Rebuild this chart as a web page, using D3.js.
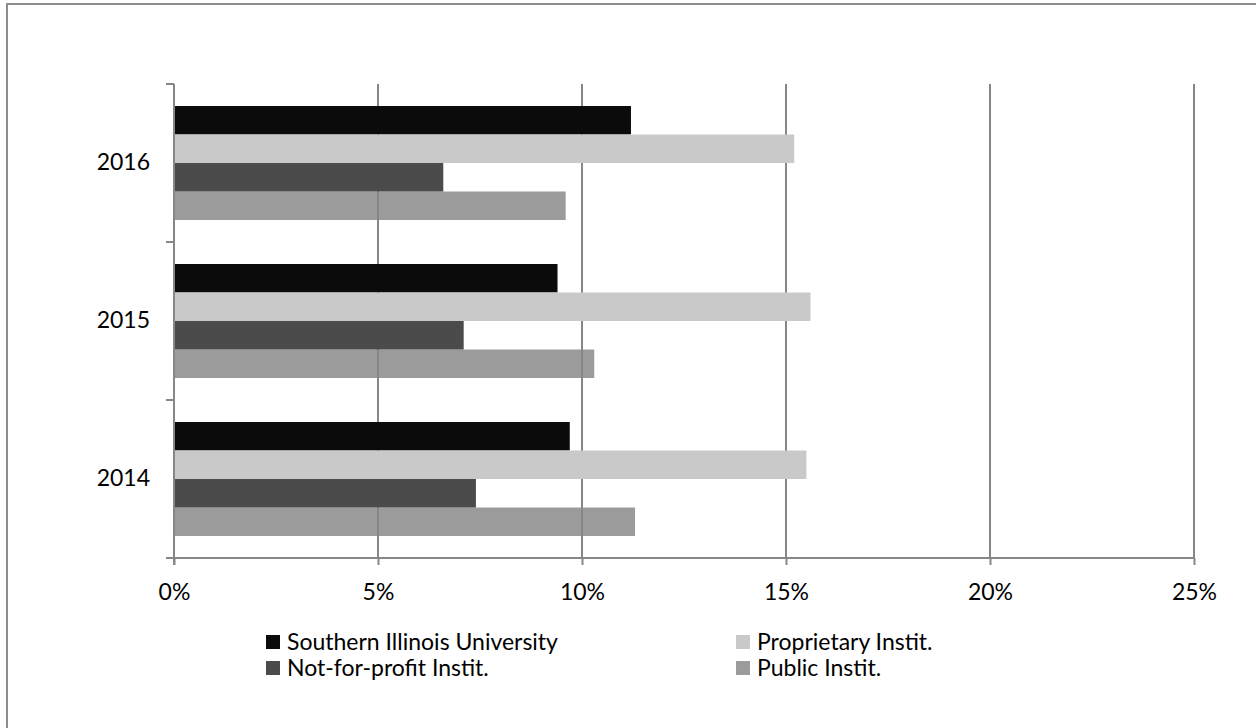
<!DOCTYPE html>
<html>
<head>
<meta charset="utf-8">
<script src="https://cdn.jsdelivr.net/npm/d3@7"></script>
<style>
  html, body { margin: 0; padding: 0; background: #fff; }
  svg { display: block; }
  text { font-family: Lato, "Open Sans", sans-serif; fill: #000; }
</style>
</head>
<body>
<svg id="chart" width="1256" height="728"></svg>
<script>
// Years shown top to bottom
const years = ["2016", "2015", "2014"];
// Series, in the order they stack inside each year group
const seriesNames = ["Southern Illinois University", "Proprietary Instit.", "Not-for-profit Instit.", "Public Instit."];
const seriesColors = ["#0b0b0b", "#c9c9c9", "#4b4b4b", "#9b9b9b"];
// Rates per series, aligned with the years array
const siuRates = [0.112, 0.094, 0.097];
const proprietaryRates = [0.152, 0.156, 0.155];
const notForProfitRates = [0.066, 0.071, 0.074];
const publicRates = [0.096, 0.103, 0.113];
const xTickValues = [0, 0.05, 0.10, 0.15, 0.20, 0.25];

const seriesValues = [siuRates, proprietaryRates, notForProfitRates, publicRates];

const svg = d3.select("#chart");
const gray = "#878787";
const fontSize = "23px";

// Frame (top and left edges visible)
svg.append("path")
  .attr("d", "M7,728 L7,4 L1256,4")
  .attr("fill", "none").attr("stroke", "#8c8c8c").attr("stroke-width", 2);

const plotLeft = 174, plotTop = 84, plotW = 1020, plotH = 474;
const g = svg.append("g").attr("transform", `translate(${plotLeft},${plotTop})`);

const x = d3.scaleLinear().domain([0, 0.25]).range([0, plotW]);
const y = d3.scaleBand().domain(years).range([0, plotH]);
const inner = d3.scaleBand().domain(seriesNames)
  .range([22, y.bandwidth() - 22]);

const rows = [];
years.forEach((yr, i) => {
  seriesNames.forEach((s, j) => rows.push({ year: yr, series: s, idx: j, value: seriesValues[j][i] }));
});

function drawBars(sel, data) {
  sel.selectAll("rect").data(data).join("rect")
    .attr("x", x(0))
    .attr("y", d => y(d.year) + inner(d.series))
    .attr("width", d => x(d.value) - x(0))
    .attr("height", inner.bandwidth())
    .attr("fill", d => seriesColors[d.idx]);
}

// Public bars sit beneath the gridlines; the rest are drawn above them
drawBars(g.append("g"), rows.filter(d => d.idx === 3));

// Vertical gridlines
g.append("g").selectAll("line").data(xTickValues.slice(1)).join("line")
  .attr("x1", d => x(d)).attr("x2", d => x(d))
  .attr("y1", 0).attr("y2", plotH)
  .attr("stroke", gray).attr("stroke-width", 2);

drawBars(g.append("g"), rows.filter(d => d.idx !== 3));

// X axis
const xAxis = g.append("g").attr("transform", `translate(0,${plotH})`)
  .call(d3.axisBottom(x).tickValues(xTickValues).tickFormat(d3.format(".0%")).tickSize(7).tickSizeOuter(0));
xAxis.select(".domain").remove();
xAxis.selectAll(".tick line").attr("stroke", gray).attr("stroke-width", 2);
xAxis.selectAll(".tick text").attr("y", 34).attr("dy", "0.35em")
  .style("font-size", fontSize).attr("fill", "#000");
g.append("line").attr("x1", -8).attr("x2", plotW).attr("y1", plotH).attr("y2", plotH)
  .attr("stroke", gray).attr("stroke-width", 2);

// Y axis line with ticks at the band edges
g.append("line").attr("x1", 0).attr("x2", 0).attr("y1", 0).attr("y2", plotH + 7)
  .attr("stroke", gray).attr("stroke-width", 2);
const edges = years.map(yr => y(yr)).concat([plotH]);
g.append("g").selectAll("line").data(edges).join("line")
  .attr("x1", -8).attr("x2", 0).attr("y1", d => d).attr("y2", d => d)
  .attr("stroke", gray).attr("stroke-width", 2);
const yAxis = g.append("g").call(d3.axisLeft(y).tickSize(0).tickPadding(24));
yAxis.select(".domain").remove();
yAxis.selectAll(".tick text").style("font-size", fontSize).attr("fill", "#000");

// Legend: two columns, two rows
const legendPos = [[266, 642], [736, 642], [266, 668], [736, 668]];
const legend = svg.append("g").selectAll("g").data(seriesNames).join("g")
  .attr("transform", (d, i) => `translate(${legendPos[i][0]},${legendPos[i][1]})`);
legend.append("rect").attr("x", 0).attr("y", -7).attr("width", 14).attr("height", 14)
  .attr("fill", (d, i) => seriesColors[i]);
legend.append("text").attr("x", 21).attr("y", 0).attr("dy", "0.35em")
  .style("font-size", fontSize).text(d => d);
</script>
</body>
</html>
